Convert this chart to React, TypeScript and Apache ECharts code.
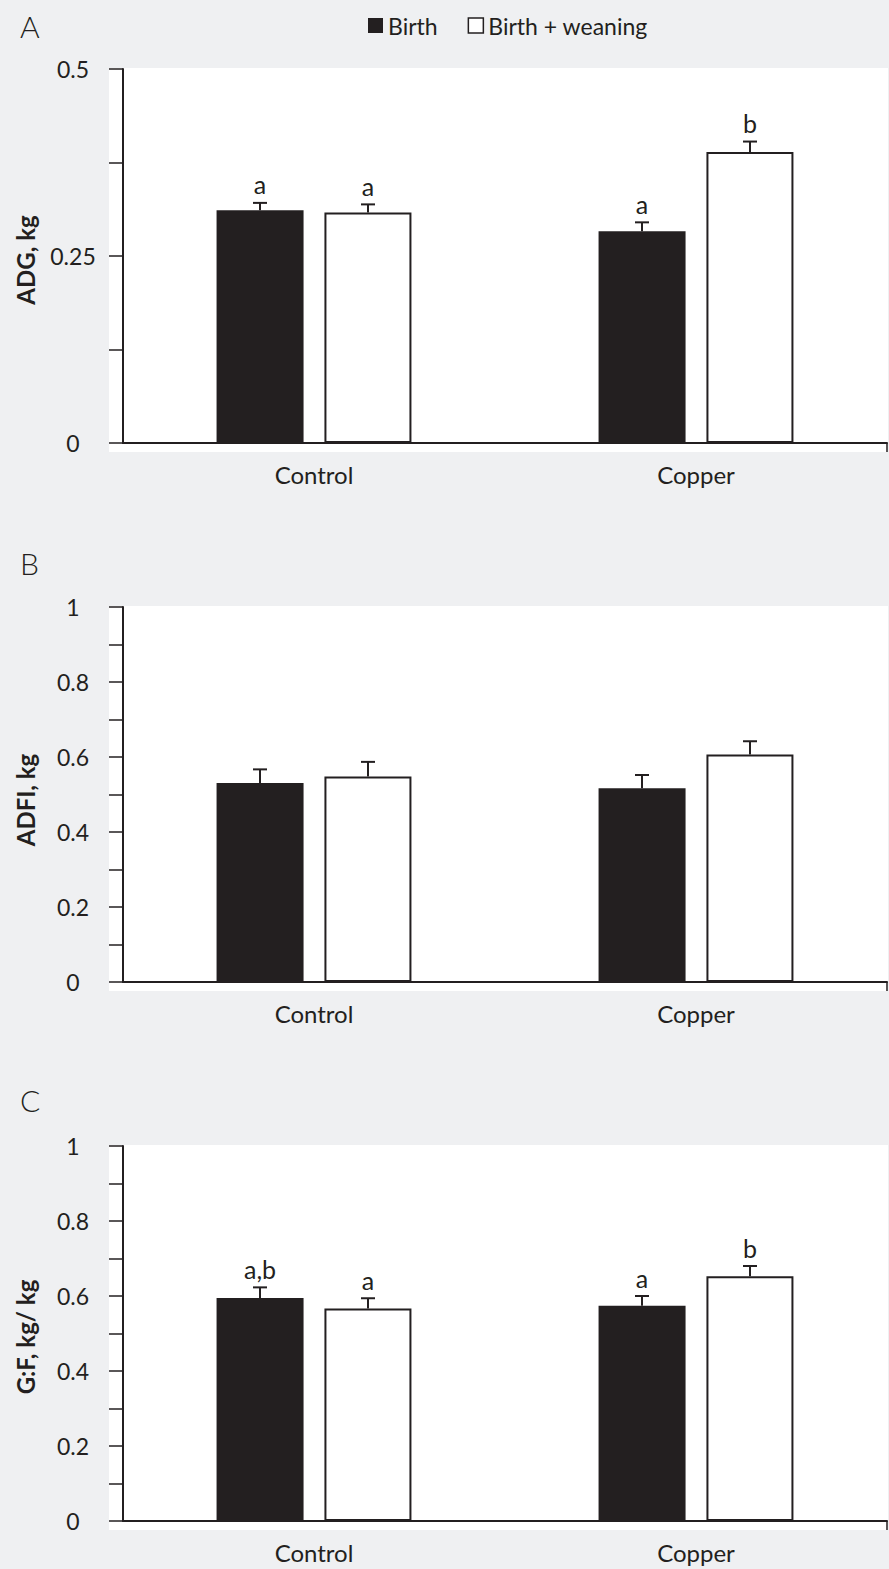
import React, { useEffect, useRef } from "react";
import * as echarts from "echarts";

// ---------- data ----------
const categories = ["Control", "Copper"];
const seriesNames = ["Birth", "Birth + weaning"];

// Panel A: ADG, kg
const adgBirth = [0.311, 0.283];
const adgBirthErr = [0.010, 0.012];
const adgWean = [0.308, 0.389];
const adgWeanErr = [0.011, 0.014];
const adgBirthLetters = ["a", "a"];
const adgWeanLetters = ["a", "b"];
const adgTickLabels = ["0", "0.25", "0.5"];

// Panel B: ADFI, kg
const adfiBirth = [0.531, 0.517];
const adfiBirthErr = [0.036, 0.035];
const adfiWean = [0.548, 0.607];
const adfiWeanErr = [0.039, 0.035];
const adfiBirthLetters = ["", ""];
const adfiWeanLetters = ["", ""];
const adfiTickLabels = ["0", "0.2", "0.4", "0.6", "0.8", "1"];

// Panel C: G:F, kg/ kg
const gfBirth = [0.595, 0.574];
const gfBirthErr = [0.028, 0.026];
const gfWean = [0.567, 0.653];
const gfWeanErr = [0.027, 0.027];
const gfBirthLetters = ["a,b", "a"];
const gfWeanLetters = ["a", "b"];
const gfTickLabels = ["0", "0.2", "0.4", "0.6", "0.8", "1"];

// ---------- style / layout ----------
const INK = "#231f20";
const BG = "#eff0f2";
const FONT = 'Lato, "Open Sans", "DejaVu Sans", sans-serif';
const W = 889;
const H = 1569;
const AXIS_X = 123;
const AXIS_RIGHT = 887;
const BAR_W = 87;
const BAR_OFF = 54;

const panels = [
  {
    letter: "A", letterY: 26, yName: "ADG, kg", yNameY: 260,
    top: 69, height: 374, max: 0.5, interval: 0.125, tickLabels: adgTickLabels,
    birth: adgBirth, birthErr: adgBirthErr, wean: adgWean, weanErr: adgWeanErr,
    birthLetters: adgBirthLetters, weanLetters: adgWeanLetters,
  },
  {
    letter: "B", letterY: 563, yName: "ADFI, kg", yNameY: 800,
    top: 607, height: 375, max: 1, interval: 0.1, tickLabels: adfiTickLabels,
    birth: adfiBirth, birthErr: adfiBirthErr, wean: adfiWean, weanErr: adfiWeanErr,
    birthLetters: adfiBirthLetters, weanLetters: adfiWeanLetters,
  },
  {
    letter: "C", letterY: 1100, yName: "G:F, kg/ kg", yNameY: 1337,
    top: 1146, height: 375, max: 1, interval: 0.1, tickLabels: gfTickLabels,
    birth: gfBirth, birthErr: gfBirthErr, wean: gfWean, weanErr: gfWeanErr,
    birthLetters: gfBirthLetters, weanLetters: gfWeanLetters,
  },
];

function errorSeries(idx: number, values: number[], errs: number[], letters: string[], offset: number) {
  return {
    type: "custom",
    xAxisIndex: idx,
    yAxisIndex: idx,
    z: 5,
    clip: false,
    encode: { x: 0, y: 1 },
    data: values.map((v, i) => [i, v, errs[i]]),
    renderItem: (params: any, api: any) => {
      const i = api.value(0);
      const v = api.value(1);
      const e = api.value(2);
      const base = api.coord([i, v]);
      const tip = api.coord([i, v + e]);
      const x = base[0] + offset;
      const children: any[] = [
        { type: "line", shape: { x1: x, y1: base[1], x2: x, y2: tip[1] }, style: { stroke: INK, lineWidth: 2 } },
        { type: "line", shape: { x1: x - 7, y1: tip[1], x2: x + 7, y2: tip[1] }, style: { stroke: INK, lineWidth: 2 } },
      ];
      const t = letters[params.dataIndex];
      if (t) {
        children.push({
          type: "text",
          x,
          y: tip[1] - 6,
          style: { text: t, fill: INK, fontSize: 25, fontFamily: FONT, align: "center", verticalAlign: "bottom" },
        });
      }
      return { type: "group", children };
    },
  };
}

export default function App() {
  const ref = useRef<HTMLDivElement>(null);

  useEffect(() => {
    document.body.style.margin = "0";
    if (!ref.current) return;
    const chart = echarts.init(ref.current, null, { renderer: "svg" });

    const grids: any[] = [];
    const xAxes: any[] = [];
    const yAxes: any[] = [];
    const series: any[] = [];
    const graphics: any[] = [];

    panels.forEach((p, idx) => {
      const zeroY = p.top + p.height;
      grids.push({ left: AXIS_X, top: p.top, width: AXIS_RIGHT - AXIS_X, height: p.height, containLabel: false });
      xAxes.push({
        type: "category",
        gridIndex: idx,
        data: categories,
        axisLine: { lineStyle: { color: INK, width: 2 } },
        axisTick: { alignWithLabel: true, length: 9, lineStyle: { color: INK, width: 1.5 } },
        axisLabel: { color: INK, fontSize: 24, fontFamily: FONT, margin: 19 },
        splitLine: { show: false },
      });
      const labelSet = new Set(p.tickLabels);
      yAxes.push({
        type: "value",
        gridIndex: idx,
        min: 0,
        max: p.max,
        interval: p.interval,
        axisLine: { show: true, lineStyle: { color: INK, width: 2 } },
        axisTick: { show: true, inside: false, length: 14, lineStyle: { color: INK, width: 1.5 } },
        axisLabel: {
          color: INK,
          fontSize: 23,
          fontFamily: FONT,
          align: "center",
          margin: 50,
          formatter: (v: number) => {
            const s = String(Math.round(v * 1000) / 1000);
            return labelSet.has(s) ? s : "";
          },
        },
        splitLine: { show: false },
      });
      series.push({
        name: seriesNames[0],
        type: "bar",
        xAxisIndex: idx,
        yAxisIndex: idx,
        data: p.birth,
        barWidth: BAR_W,
        barGap: "24%",
        itemStyle: { color: INK },
      });
      series.push({
        name: seriesNames[1],
        type: "bar",
        xAxisIndex: idx,
        yAxisIndex: idx,
        data: p.wean,
        barWidth: BAR_W,
        barGap: "24%",
        itemStyle: { color: "#ffffff", borderColor: INK, borderWidth: 2 },
      });
      series.push(errorSeries(idx, p.birth, p.birthErr, p.birthLetters, -BAR_OFF));
      series.push(errorSeries(idx, p.wean, p.weanErr, p.weanLetters, BAR_OFF));

      // white panel background
      graphics.push({
        type: "rect",
        z: -10,
        shape: { x: 109, y: p.top - 1, width: AXIS_RIGHT + 1 - 109, height: p.height + 10 },
        style: { fill: "#ffffff" },
      });
      // right-end tick of x axis
      graphics.push({
        type: "line",
        z: 10,
        shape: { x1: AXIS_RIGHT, y1: zeroY, x2: AXIS_RIGHT, y2: zeroY + 9 },
        style: { stroke: INK, lineWidth: 1.5 },
      });
      // panel letter
      graphics.push({
        type: "text",
        x: 20,
        y: p.letterY,
        style: { text: p.letter, fill: INK, fontSize: 30, fontWeight: 300, fontFamily: FONT, verticalAlign: "middle" },
      });
      // y axis title
      graphics.push({
        type: "text",
        x: 25,
        y: p.yNameY,
        rotation: Math.PI / 2,
        style: {
          text: p.yName,
          fill: INK,
          fontSize: 24,
          fontWeight: "bold",
          fontFamily: FONT,
          align: "center",
          verticalAlign: "middle",
        },
      });
    });

    chart.setOption({
      animation: false,
      backgroundColor: BG,
      legend: {
        left: 363,
        top: 9,
        itemWidth: 15,
        itemHeight: 15,
        itemGap: 30,
        icon: "rect",
        textStyle: { color: INK, fontSize: 23, fontFamily: FONT },
        data: [
          { name: seriesNames[0], itemStyle: { color: INK } },
          { name: seriesNames[1], itemStyle: { color: "#ffffff", borderColor: INK, borderWidth: 1.5 } },
        ],
      },
      grid: grids,
      xAxis: xAxes,
      yAxis: yAxes,
      series,
      graphic: graphics,
    });

    return () => chart.dispose();
  }, []);

  return <div ref={ref} style={{ width: W, height: H }} />;
}
